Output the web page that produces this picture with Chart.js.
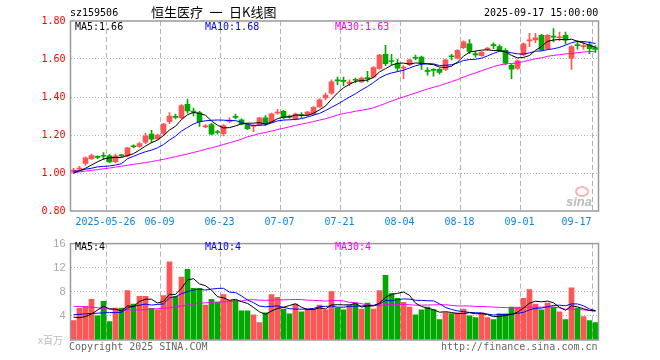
<!DOCTYPE html>
<html lang="zh">
<head>
<meta charset="UTF-8">
<title>恒生医疗 日K线图</title>
<script src="https://cdn.jsdelivr.net/npm/chart.js@4.4.1/dist/chart.umd.min.js"></script>
<style>
  body { margin: 0; background: #fff; }
  #wrap { position: relative; width: 660px; height: 360px; overflow: hidden; }
  canvas { position: absolute; left: 0; }
  .t { position: absolute; font: 10px "DejaVu Sans Mono", monospace; line-height: 10px; white-space: pre; color: #000; }
</style>
</head>
<body>
<div id="wrap">
  <canvas id="kline" width="660" height="232" style="top:0"></canvas>
  <canvas id="vol" width="660" height="128" style="top:232px"></canvas>

  <div class="t" style="left:70px;top:8px">sz159506</div>
  <div class="t" style="left:151px;top:5px;font:13px 'Noto Sans CJK SC';line-height:13px">恒生医疗&ensp;一&ensp;日K线图</div>
  <div class="t" style="left:484px;top:8px">2025-09-17 15:00:00</div>

  <div class="t" style="left:75px;top:21.5px">MA5:1.66</div>
  <div class="t" style="left:205px;top:21.5px;color:#0000ff">MA10:1.68</div>
  <div class="t" style="left:335px;top:21.5px;color:#ff00ff">MA30:1.63</div>

  <div class="t" style="left:75px;top:241.5px">MA5:4</div>
  <div class="t" style="left:205px;top:241.5px;color:#0000ff">MA10:4</div>
  <div class="t" style="left:335px;top:241.5px;color:#ff00ff">MA30:4</div>

  <div class="t" style="left:38px;top:335px;font:10px 'Noto Sans CJK SC';line-height:10px;color:#bbb">x百万</div>
  <div class="t" style="left:69px;top:341.5px;color:#666">Copyright 2025 SINA.COM</div>
  <div class="t" style="left:441px;top:341.5px;color:#666">http://finance.sina.com.cn</div>

  <div style="position:absolute;left:575px;top:186px;width:10px;height:7px;border:2px solid #f5b5b5;border-radius:50%"></div>
  <div class="t" style="left:566px;top:195px;font:italic bold 13px 'Liberation Sans';line-height:13px;color:#bbb">sina</div>
</div>

<script>
// trading days shown, 2025-05-16 .. 2025-09-17
const dates = [
  '2025-05-16','2025-05-19','2025-05-20','2025-05-21','2025-05-22','2025-05-23','2025-05-26','2025-05-27','2025-05-28','2025-05-29','2025-05-30',
  '2025-06-03','2025-06-04','2025-06-05','2025-06-06','2025-06-09','2025-06-10','2025-06-11','2025-06-12','2025-06-13','2025-06-16','2025-06-17',
  '2025-06-18','2025-06-19','2025-06-20','2025-06-23','2025-06-24','2025-06-25','2025-06-26','2025-06-27','2025-06-30',
  '2025-07-01','2025-07-02','2025-07-03','2025-07-04','2025-07-07','2025-07-08','2025-07-09','2025-07-10','2025-07-11','2025-07-14','2025-07-15',
  '2025-07-16','2025-07-17','2025-07-18','2025-07-21','2025-07-22','2025-07-23','2025-07-24','2025-07-25','2025-07-28','2025-07-29','2025-07-30','2025-07-31',
  '2025-08-01','2025-08-04','2025-08-05','2025-08-06','2025-08-07','2025-08-08','2025-08-11','2025-08-12','2025-08-13','2025-08-14','2025-08-15',
  '2025-08-18','2025-08-19','2025-08-20','2025-08-21','2025-08-22','2025-08-25','2025-08-26','2025-08-27','2025-08-28','2025-08-29',
  '2025-09-01','2025-09-02','2025-09-03','2025-09-04','2025-09-05','2025-09-08','2025-09-09','2025-09-10','2025-09-11','2025-09-12',
  '2025-09-15','2025-09-16','2025-09-17'
];

const openP = [1.005,1.02,1.05,1.075,1.085,1.092,1.09,1.06,1.093,1.09,1.142,1.14,1.162,1.205,1.18,1.208,1.27,1.298,1.29,1.362,
  1.325,1.318,1.243,1.255,1.217,1.207,1.272,1.297,1.28,1.255,1.245,1.25,1.29,1.268,1.315,1.325,1.297,1.283,1.305,1.305,
  1.31,1.348,1.395,1.42,1.49,1.488,1.472,1.492,1.48,1.502,1.505,1.55,1.625,1.592,1.575,1.552,1.57,1.608,1.61,1.54,
  1.545,1.545,1.545,1.615,1.605,1.66,1.68,1.628,1.618,1.652,1.675,1.665,1.645,1.567,1.55,1.622,1.695,1.70,1.725,1.655,
  1.72,1.712,1.725,1.605,1.675,1.665,1.676,1.66];
const highP = [1.025,1.035,1.085,1.10,1.09,1.107,1.098,1.10,1.098,1.135,1.148,1.16,1.21,1.225,1.205,1.262,1.318,1.31,1.36,1.388,
  1.342,1.325,1.255,1.262,1.225,1.255,1.29,1.31,1.285,1.26,1.255,1.292,1.302,1.315,1.335,1.33,1.305,1.315,1.318,1.325,
  1.35,1.39,1.42,1.49,1.505,1.505,1.49,1.50,1.505,1.535,1.56,1.625,1.672,1.625,1.60,1.565,1.60,1.62,1.615,1.555,
  1.55,1.55,1.60,1.625,1.65,1.695,1.702,1.64,1.64,1.66,1.685,1.675,1.655,1.575,1.595,1.685,1.735,1.735,1.73,1.73,
  1.76,1.742,1.742,1.67,1.695,1.69,1.69,1.67];
const lowP = [0.998,1.015,1.04,1.07,1.075,1.072,1.055,1.055,1.085,1.085,1.132,1.135,1.155,1.16,1.175,1.20,1.26,1.285,1.285,1.315,
  1.30,1.245,1.238,1.20,1.205,1.195,1.265,1.285,1.255,1.228,1.218,1.248,1.25,1.265,1.31,1.285,1.288,1.28,1.29,1.30,
  1.305,1.345,1.385,1.415,1.465,1.46,1.46,1.475,1.475,1.48,1.50,1.545,1.565,1.57,1.535,1.497,1.565,1.595,1.545,1.515,
  1.51,1.52,1.54,1.595,1.60,1.655,1.628,1.61,1.615,1.645,1.655,1.64,1.57,1.497,1.545,1.615,1.665,1.685,1.645,1.65,
  1.69,1.695,1.68,1.545,1.65,1.65,1.628,1.635];
const closeP = [1.015,1.025,1.08,1.092,1.082,1.088,1.058,1.09,1.09,1.132,1.138,1.155,1.195,1.178,1.20,1.258,1.30,1.293,1.355,1.327,
  1.32,1.27,1.248,1.205,1.213,1.25,1.278,1.293,1.258,1.233,1.25,1.29,1.258,1.312,1.32,1.292,1.294,1.31,1.302,1.32,
  1.345,1.385,1.41,1.48,1.485,1.482,1.478,1.488,1.50,1.497,1.555,1.62,1.575,1.587,1.552,1.558,1.595,1.604,1.577,1.535,
  1.54,1.53,1.595,1.612,1.645,1.69,1.64,1.622,1.635,1.656,1.67,1.645,1.578,1.546,1.59,1.68,1.70,1.712,1.648,1.725,
  1.715,1.716,1.70,1.665,1.67,1.668,1.655,1.65];

// volume, millions of shares
const volume = [3.23,5.26,5.58,6.75,4.03,6.43,3.07,5.31,5.31,8.19,5.95,7.23,7.23,5.26,4.99,7.39,12.99,7.23,10.43,11.71,
  8.56,8.56,5.79,6.75,6.27,7.55,6.59,6.59,4.83,4.83,4.19,2.91,4.51,7.55,7.07,5.15,4.35,5.95,4.67,5.15,
  5.15,5.79,4.99,8.03,5.35,4.99,5.79,6.11,5.15,6.11,5.15,8.19,10.75,7.71,6.91,6.27,5.47,4.19,4.99,5.47,
  5.04,3.39,4.57,4.4,4.51,5.15,4.03,3.71,4.51,3.71,3.39,4.35,4.35,5.47,5.47,6.91,8.35,5.95,4.99,6.11,
  5.47,4.67,3.39,8.67,5.31,3.87,3.23,2.91];

// moving-average values at the first bars (earlier days are not shown)
const ma5Head = [1.00, 1.012, 1.025, 1.042];
const ma10Head = [1.01, 1.012, 1.02, 1.025, 1.032, 1.035, 1.037, 1.042, 1.049];
const ma30Head = [1.002,1.006,1.01,1.014,1.018,1.022,1.026,1.031,1.036,1.041,1.046,1.05,1.055,1.06,1.066,
  1.072,1.079,1.086,1.093,1.10,1.108,1.116,1.125,1.133,1.141,1.15,1.159,1.168,1.178];
const vma5Head = [3.8, 3.7, 3.9, 4.3];
const vma10Head = [4.2, 4.25, 4.35, 4.4, 4.45, 4.5, 4.55, 4.55, 4.6];
const vma30Head = [5.6,5.55,5.5,5.45,5.35,5.25,5.15,5.05,5.0,4.98,4.98,5.0,5.05,5.15,5.2,
  5.28,5.36,5.5,5.65,5.78,5.95,6.1,6.18,6.24,6.3,6.34,6.38,6.43,6.48];

const xTicks = ['2025-05-26','2025-06-09','2025-06-23','2025-07-07','2025-07-21','2025-08-04','2025-08-18','2025-09-01','2025-09-17'];
const priceTicks = [0.8, 1.0, 1.2, 1.4, 1.6, 1.8];
const volTicks = [0, 4, 8, 12, 16];

const UP = '#ff5555';
const DOWN = '#00a800';
const GRID = '#b4b4b4';

function movingAvg(values, n, head) {
  return values.map(function (v, i) {
    if (i < n - 1) return head[i];
    let s = 0;
    for (let k = i - n + 1; k <= i; k++) s += values[k];
    return s / n;
  });
}

const candleColor = ctx => closeP[ctx.dataIndex] >= openP[ctx.dataIndex] ? UP : DOWN;
const tickIdx = xTicks.map(d => dates.indexOf(d));
const vGridColor = c => tickIdx.indexOf(c.index) >= 0 ? GRID : 'rgba(0,0,0,0)';

// grey frame round the plot area
const frame = {
  id: 'frame',
  afterDraw(chart) {
    const a = chart.chartArea, g = chart.ctx;
    g.save();
    g.strokeStyle = '#9a9a9a';
    g.lineWidth = 1.5;
    g.strokeRect(a.left, a.top, a.right - a.left, a.bottom - a.top);
    g.restore();
  }
};

function maLine(data, color) {
  return { type: 'line', data: data, borderColor: color, borderWidth: 1, pointRadius: 0, tension: 0, order: 0 };
}

function xScale(showLabels) {
  return {
    offset: true,
    grid: { offset: true, color: vGridColor, drawTicks: false, lineWidth: 1 },
    border: { display: false, dash: [5, 3] },
    ticks: {
      display: showLabels, autoSkip: false, maxRotation: 0, padding: 5, labelOffset: -4,
      color: '#0a86dc', font: { family: 'DejaVu Sans Mono', size: 10 },
      callback: function (v, i) {
        const k = xTicks.indexOf(dates[i]);
        if (k < 0) return '';
        if (k === 0) return dates[i];
        if (k === xTicks.length - 1) return dates[i].slice(5) + '     ';
        return dates[i].slice(5);
      }
    },
    afterFit: s => { s.height = showLabels ? 21 : 20; }
  };
}

Chart.defaults.animation = false;

new Chart(document.getElementById('kline'), {
  type: 'bar',
  data: {
    labels: dates,
    datasets: [
      maLine(movingAvg(closeP, 5, ma5Head), '#000000'),
      maLine(movingAvg(closeP, 10, ma10Head), '#0000ff'),
      maLine(movingAvg(closeP, 30, ma30Head), '#ff00ff'),
      {
        data: dates.map((d, i) => [lowP[i], highP[i]]),
        backgroundColor: candleColor, barThickness: 1, grouped: false, minBarLength: 1, order: 1
      },
      {
        data: dates.map((d, i) => [Math.min(openP[i], closeP[i]), Math.max(openP[i], closeP[i])]),
        backgroundColor: candleColor, barThickness: 5, grouped: false, minBarLength: 1, order: 1
      }
    ]
  },
  options: {
    responsive: false,
    layout: { padding: { top: 21, right: 61.5, bottom: 0, left: 0 } },
    plugins: { legend: { display: false }, tooltip: { enabled: false } },
    scales: {
      x: xScale(true),
      y: {
        min: 0.8, max: 1.8,
        afterBuildTicks: s => { s.ticks = priceTicks.map(v => ({ value: v })); },
        grid: { drawTicks: false, color: c => (c.tick && c.tick.value > 0.85 && c.tick.value < 1.75) ? GRID : 'rgba(0,0,0,0)' },
        border: { display: false, dash: [1, 2] },
        ticks: { padding: 5, color: '#ff0000', font: { family: 'DejaVu Sans Mono', size: 10 }, callback: v => v.toFixed(2) },
        afterFit: s => { s.width = 70.5; }
      }
    }
  },
  plugins: [frame]
});

const volColor = ctx => closeP[ctx.dataIndex] >= openP[ctx.dataIndex] ? UP : DOWN;

new Chart(document.getElementById('vol'), {
  type: 'bar',
  data: {
    labels: dates,
    datasets: [
      maLine(movingAvg(volume, 5, vma5Head), '#000000'),
      maLine(movingAvg(volume, 10, vma10Head), '#0000ff'),
      maLine(movingAvg(volume, 30, vma30Head), '#ff00ff'),
      { data: volume, backgroundColor: volColor, barThickness: 5, order: 1 }
    ]
  },
  options: {
    responsive: false,
    layout: { padding: { top: 8, right: 61.5, bottom: 0, left: 0 } },
    plugins: { legend: { display: false }, tooltip: { enabled: false } },
    scales: {
      x: xScale(false),
      y: {
        min: 0, max: 16,
        afterBuildTicks: s => { s.ticks = volTicks.map(v => ({ value: v })); },
        grid: { drawTicks: false, color: c => (c.tick && c.tick.value > 0 && c.tick.value < 16) ? GRID : 'rgba(0,0,0,0)' },
        border: { display: false, dash: [1, 2] },
        ticks: { padding: 5, color: '#a8a8a8', font: { family: 'Liberation Sans', size: 11 }, callback: v => v === 0 ? '' : String(v) },
        afterFit: s => { s.width = 70.5; }
      }
    }
  },
  plugins: [frame]
});
</script>
</body>
</html>
